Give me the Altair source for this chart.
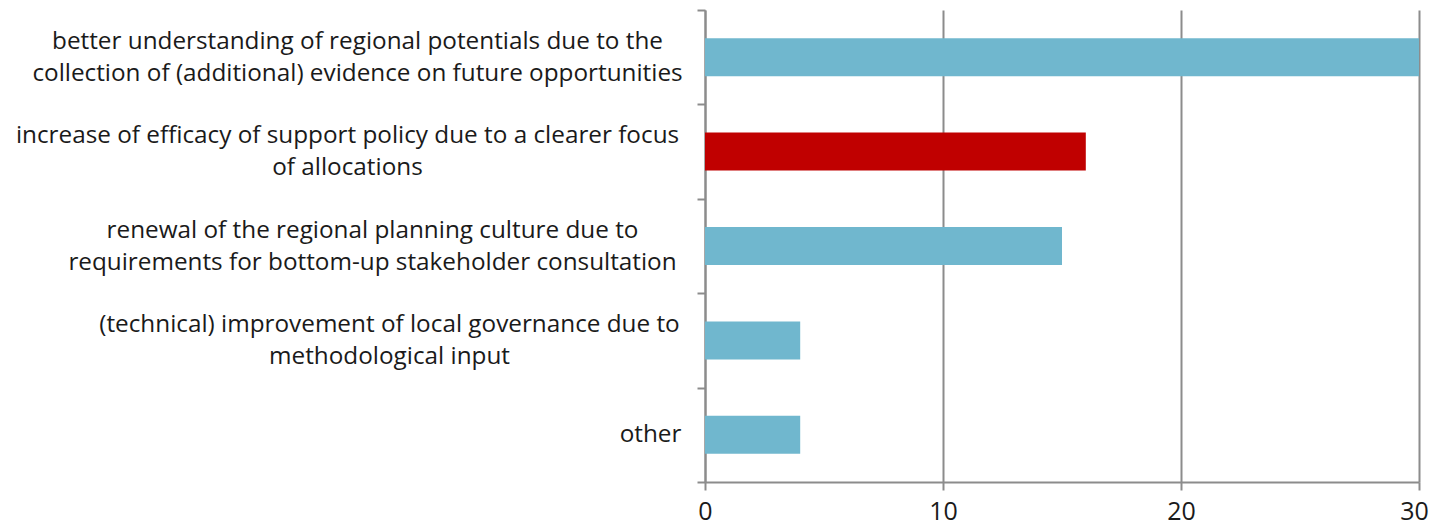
import altair as alt
import pandas as pd

# Category labels (each entry: lines of the label)
label_lines = [
    ["better understanding of regional potentials due to the",
     "collection of (additional) evidence on future opportunities"],
    ["increase of efficacy of support policy due to a clearer focus",
     "of allocations"],
    ["renewal of the regional planning culture due to",
     "requirements for bottom-up stakeholder consultation"],
    ["(technical) improvement of local governance due to",
     "methodological input"],
    ["other"],
]
values = [30, 16, 15, 4, 4]
x_ticks = [0, 10, 20, 30]
highlighted = 1  # index of the red bar

categories = ["|".join(l) for l in label_lines]
df = pd.DataFrame({"category": categories, "value": values})

# distance (px) from axis line to the centre of each label block
label_centre_dist = [348, 358, 333, 316, 55]
tick_size = 8
line_h = 32
pad_expr = ""
for c, d in zip(categories, label_centre_dist):
    pad_expr += f"datum.value === '{c}' ? {d - tick_size} : "
pad_expr += "20"
offset_expr = f"-{line_h / 2} * (length(split(datum.value, '|')) - 1)"

FONT = "Open Sans"
GRAY = "#8c8c8c"

chart = (
    alt.Chart(df)
    .mark_bar(size=38)
    .encode(
        x=alt.X(
            "value:Q",
            scale=alt.Scale(domain=[0, 30], nice=False),
            axis=alt.Axis(
                values=x_ticks,
                title=None,
                grid=True,
                gridColor=GRAY,
                gridWidth=2,
                domainColor=GRAY,
                domainWidth=2,
                tickColor=GRAY,
                tickWidth=2,
                tickSize=8,
                labelFont=FONT,
                labelFontSize=25,
                labelColor="#1a1a1a",
                labelPadding=9,
                labelFlush=False,
                labelOffset=alt.ExprRef(expr="datum.value == 30 ? -5 : 0"),
            ),
        ),
        y=alt.Y(
            "category:N",
            sort=categories,
            scale=alt.Scale(paddingInner=0, paddingOuter=0),
            axis=alt.Axis(
                title=None,
                domainColor=GRAY,
                domainWidth=2,
                tickColor=GRAY,
                tickWidth=2,
                tickSize=tick_size,
                tickBand="extent",
                labelExpr="split(datum.label, '|')",
                labelAlign="center",
                labelBaseline="middle",
                labelPadding=alt.ExprRef(expr=pad_expr),
                labelOffset=alt.ExprRef(expr=offset_expr),
                labelFont=FONT,
                labelFontSize=24.3,
                labelLineHeight=line_h,
                labelColor="#1a1a1a",
                labelLimit=0,
            ),
        ),
        color=alt.condition(
            alt.datum.category == categories[highlighted],
            alt.value("#C00000"),
            alt.value("#70B7CE"),
        ),
    )
    .properties(
        width=714,
        height=472,
        autosize=alt.AutoSizeParams(type="none"),
        padding={"left": 697, "top": 2, "right": 10, "bottom": 46},
    )
    .configure_view(stroke=None)
)

chart.save("out.html", embed_options={"renderer": "svg", "actions": False})
